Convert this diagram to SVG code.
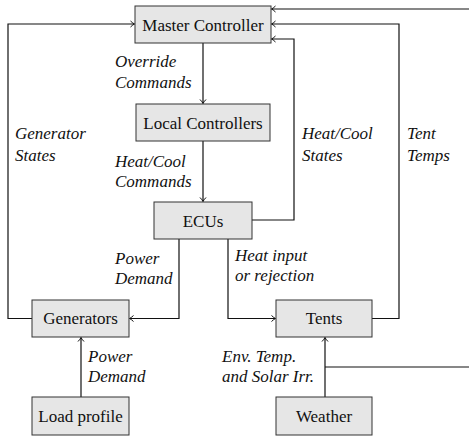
<svg xmlns="http://www.w3.org/2000/svg" width="469" height="437" viewBox="0 0 469 437">
<style>
.box{fill:#e6e6e6;stroke:#333;stroke-width:1}
.t{font-family:'Liberation Serif','DejaVu Serif',serif;font-size:17px;fill:#111;text-anchor:middle}
.l{font-family:'Liberation Serif','DejaVu Serif',serif;font-size:17px;font-style:italic;fill:#111}
.c{fill:none;stroke:#111;stroke-width:1.2;marker-end:url(#ah)}
.n{fill:none;stroke:#111;stroke-width:1.2}
</style>
<defs>
<marker id="ah" markerUnits="userSpaceOnUse" markerWidth="10" markerHeight="10" refX="0" refY="0" viewBox="-6 -5 8 10" orient="auto" overflow="visible">
<path d="M-4,-3 Q-1.5,-0.6 0,0 Q-1.5,0.6 -4,3" fill="none" stroke="#111" stroke-width="1"/>
</marker>
</defs>
<g id="connectors">
<path class="c" d="M32,318.5 H8 V24 H134.5"/>
<path class="c" d="M203,43 V103.5"/>
<path class="c" d="M203,141 V201.5"/>
<path class="c" d="M252,220 H294 V39 H271.5"/>
<path class="c" d="M372,318.5 H399 V24 H271.5"/>
<path class="c" d="M469,9 H271.5"/>
<path class="c" d="M179,239 V318.5 H129.5"/>
<path class="c" d="M228,239 V318.5 H275.5"/>
<path class="c" d="M81,397 V337.5"/>
<path class="c" d="M325,397 V337.5"/>
<path class="n" d="M325,367 H469"/>
</g>
<g id="master"><rect class="box" x="135" y="6" width="136" height="37"/><text class="t" x="203" y="30.5">Master Controller</text></g>
<g id="local"><rect class="box" x="136" y="104" width="134" height="37"/><text class="t" x="203" y="128.5">Local Controllers</text></g>
<g id="ecus"><rect class="box" x="154" y="202" width="98" height="37"/><text class="t" x="203" y="226.5">ECUs</text></g>
<g id="generators"><rect class="box" x="32" y="300" width="97" height="37"/><text class="t" x="80.5" y="324">Generators</text></g>
<g id="tents"><rect class="box" x="276" y="300" width="96" height="37"/><text class="t" x="324" y="324">Tents</text></g>
<g id="load"><rect class="box" x="32" y="397" width="97" height="38"/><text class="t" x="80.5" y="421.5">Load profile</text></g>
<g id="weather"><rect class="box" x="276" y="397" width="96" height="38"/><text class="t" x="324" y="421.5">Weather</text></g>
<g id="labels">
<text class="l" x="115" y="67">Override</text>
<text class="l" x="115" y="88">Commands</text>
<text class="l" x="15" y="139">Generator</text>
<text class="l" x="15" y="161">States</text>
<text class="l" x="302" y="139">Heat/Cool</text>
<text class="l" x="302" y="161">States</text>
<text class="l" x="407" y="139">Tent</text>
<text class="l" x="407" y="161">Temps</text>
<text class="l" x="115" y="167">Heat/Cool</text>
<text class="l" x="115" y="187">Commands</text>
<text class="l" x="115" y="264">Power</text>
<text class="l" x="115" y="284">Demand</text>
<text class="l" x="235" y="261">Heat input</text>
<text class="l" x="235" y="281">or rejection</text>
<text class="l" x="88" y="362">Power</text>
<text class="l" x="88" y="382">Demand</text>
<text class="l" x="222" y="362">Env. Temp.</text>
<text class="l" x="222" y="382">and Solar Irr.</text>
</g>
</svg>
